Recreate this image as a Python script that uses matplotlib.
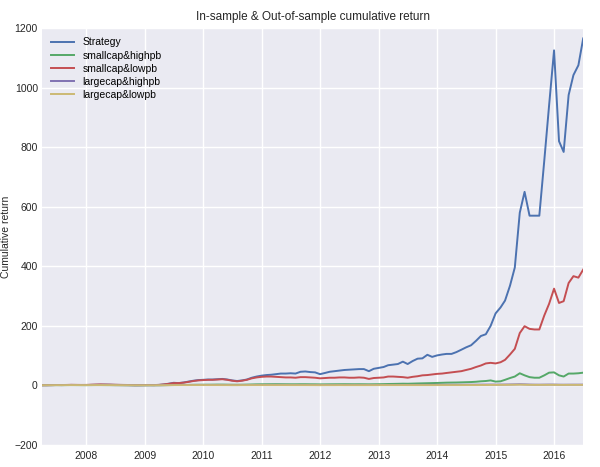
import numpy as np
import pandas as pd
import matplotlib
matplotlib.use("Agg")
import matplotlib.pyplot as plt
import matplotlib.dates as mdates

# monthly values, Mar 2007 .. Jun 2016
strategy = [1.0, 1.1, 1.3, 1.5, 1.4, 1.6, 1.8, 1.7, 1.5, 1.4,
            2.0, 2.4, 2.6, 2.8, 2.5, 2.0, 1.8, 1.6, 1.3, 1.0, 1.1, 1.2,
            1.5, 1.3, 2.0, 3.5, 6, 9, 8, 10, 13, 16, 18, 19,
            20, 20, 21, 22, 20, 17, 15, 17, 20, 26, 30, 33,
            35, 36, 38, 40, 40, 41, 40, 46, 47, 45, 44, 38,
            42, 46, 48, 50, 52, 53, 54, 55, 55, 48, 56, 59,
            62, 68, 70, 72, 80, 72, 82, 90, 91, 103, 96, 101,
            104, 106, 106, 112, 120, 128, 135, 150, 166, 172, 200, 242,
            262, 285, 335, 396, 580, 650, 570, 570, 570, 755, 940, 1125,
            820, 784, 975, 1042, 1075, 1165]
smallcap_highpb = [1.0, 1.0, 1.1, 1.2, 1.1, 1.2, 1.3, 1.2, 1.1, 1.1,
                   1.2, 1.3, 1.3, 1.2, 1.1, 1.0, 0.9, 0.8, 0.7, 0.6, 0.6, 0.7,
                   0.7, 0.7, 0.8, 1.0, 1.3, 1.5, 1.6, 1.8, 2.0, 2.3, 2.5, 2.6,
                   2.7, 2.8, 3.0, 3.0, 2.8, 2.6, 2.5, 2.7, 3.0, 3.4, 3.8, 4.0,
                   4.1, 4.2, 4.3, 4.2, 4.1, 4.0, 4.0, 4.2, 4.2, 4.0, 3.9, 3.7,
                   3.8, 4.0, 4.1, 4.2, 4.3, 4.2, 4.1, 4.2, 4.1, 3.9, 4.1, 4.3,
                   4.6, 5.0, 5.3, 5.6, 6.0, 5.8, 6.3, 6.8, 7.2, 7.6, 8.0, 8.5,
                   9.0, 9.5, 9.8, 10, 10.5, 11, 11.5, 12.5, 14, 15, 17, 13,
                   14, 19, 25, 30, 41, 34, 28, 26, 26, 34, 43, 44,
                   34, 30, 40, 40, 41, 43]
smallcap_lowpb = [1.0, 1.1, 1.3, 1.6, 1.5, 1.8, 2.2, 2.0, 1.8, 1.9,
                  2.5, 3.0, 3.5, 3.0, 2.8, 2.4, 2.0, 1.8, 1.5, 1.2, 1.3, 1.4,
                  1.5, 1.4, 2.0, 3.5, 5.5, 8, 8, 9.5, 12, 15, 17, 18,
                  19, 19, 20, 21, 19, 16, 14, 16, 19, 24, 27, 29,
                  30, 30, 29, 28, 27, 27, 26, 28, 28, 27, 26, 24,
                  25, 26, 26, 27, 27, 26, 26, 27, 26, 22, 25, 26,
                  27, 30, 30, 29, 28, 26, 29, 31, 34, 35, 37, 39,
                  40, 42, 44, 46, 48, 52, 56, 62, 67, 74, 76, 74,
                  78, 86, 104, 123, 176, 199, 190, 188, 188, 235, 274, 325,
                  277, 283, 344, 367, 362, 389]
largecap_highpb = [1.0, 1.1, 1.2, 1.4, 1.3, 1.5, 1.7, 1.6, 1.5, 1.5,
                   1.6, 1.7, 1.7, 1.6, 1.5, 1.3, 1.2, 1.0, 0.9, 0.8, 0.8, 0.9,
                   0.9, 0.9, 1.0, 1.2, 1.4, 1.5, 1.6, 1.6, 1.7, 1.8, 1.8, 1.8,
                   1.7, 1.6, 1.7, 1.6, 1.5, 1.4, 1.4, 1.5, 1.6, 1.7, 1.8, 1.8,
                   1.8, 1.8, 1.9, 1.9, 1.8, 1.7, 1.7, 1.6, 1.6, 1.5, 1.5, 1.4,
                   1.5, 1.5, 1.6, 1.6, 1.5, 1.5, 1.5, 1.6, 1.6, 1.5, 1.6, 1.7,
                   1.7, 1.8, 1.8, 1.8, 1.9, 1.8, 1.9, 2.0, 2.0, 2.1, 2.1, 2.2,
                   2.2, 2.2, 2.3, 2.3, 2.4, 2.5, 2.6, 2.7, 2.8, 2.9, 3.0, 2.9,
                   3.0, 3.1, 3.3, 3.6, 4.0, 3.6, 3.0, 2.7, 2.6, 2.8, 3.0, 3.0,
                   2.6, 2.5, 2.6, 2.7, 2.7, 2.8]
largecap_lowpb = [1.0, 1.0, 1.1, 1.2, 1.2, 1.3, 1.4, 1.4, 1.3, 1.3,
                  1.3, 1.4, 1.4, 1.3, 1.3, 1.2, 1.1, 1.0, 0.9, 0.8, 0.8, 0.8,
                  0.8, 0.8, 0.9, 1.0, 1.1, 1.2, 1.3, 1.3, 1.3, 1.4, 1.4, 1.4,
                  1.3, 1.3, 1.3, 1.2, 1.2, 1.1, 1.1, 1.2, 1.2, 1.3, 1.3, 1.3,
                  1.3, 1.3, 1.3, 1.3, 1.3, 1.2, 1.2, 1.2, 1.2, 1.1, 1.1, 1.1,
                  1.1, 1.1, 1.1, 1.2, 1.1, 1.1, 1.1, 1.1, 1.1, 1.1, 1.1, 1.2,
                  1.2, 1.2, 1.2, 1.2, 1.3, 1.2, 1.2, 1.2, 1.2, 1.2, 1.2, 1.3,
                  1.3, 1.3, 1.3, 1.3, 1.3, 1.4, 1.4, 1.4, 1.5, 1.6, 1.8, 1.9,
                  2.0, 2.1, 2.3, 2.5, 2.7, 2.4, 2.1, 2.0, 2.0, 2.1, 2.1, 2.1,
                  1.9, 1.9, 2.0, 2.0, 2.0, 2.1]

names = ["Strategy", "smallcap&highpb", "smallcap&lowpb", "largecap&highpb", "largecap&lowpb"]
series = [strategy, smallcap_highpb, smallcap_lowpb, largecap_highpb, largecap_lowpb]
colors = ["#4C72B0", "#55A868", "#C44E52", "#8172B2", "#CCB974"]

dates = pd.date_range("2007-03-31", periods=len(strategy), freq="ME")

plt.rcParams["font.family"] = ["Liberation Sans", "DejaVu Sans"]
fig = plt.figure(figsize=(6, 4.67), dpi=100)
ax = fig.add_axes([0.07, 0.047, 0.902, 0.893])
ax.set_facecolor("#EAEAF2")
for s in ax.spines.values():
    s.set_visible(False)
ax.grid(True, color="white", linewidth=1.0)
ax.set_axisbelow(True)

for name, vals, c in zip(names, series, colors):
    ax.plot(dates, vals, color=c, linewidth=1.4, label=name)

ax.set_xlim(dates[0], dates[-1])
ax.set_ylim(-200, 1200)
ax.set_yticks(np.arange(-200, 1201, 200))
ax.xaxis.set_major_locator(mdates.YearLocator())
ax.xaxis.set_major_formatter(mdates.DateFormatter("%Y"))
ax.tick_params(axis="y", length=0, labelsize=7.5, pad=3, colors="#262626")
ax.tick_params(axis="x", length=0, labelsize=7.5, pad=4, colors="#262626")

ax.set_title("In-sample & Out-of-sample cumulative return", fontsize=8.5, color="#262626", pad=6)
ax.set_ylabel("Cumulative return", fontsize=7.5, color="#262626", labelpad=2)
ax.yaxis.set_label_coords(-0.058, 0.5)
ax.legend(loc="upper left", frameon=False, fontsize=7.5, handlelength=2.2, labelspacing=0.3)

fig.savefig("out.png", dpi=100)
